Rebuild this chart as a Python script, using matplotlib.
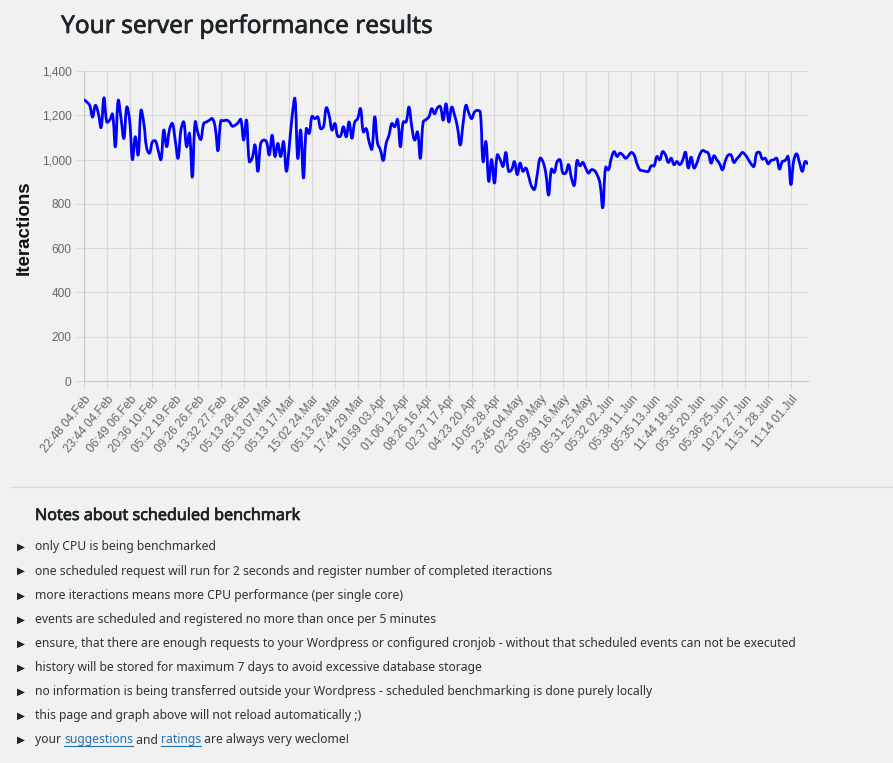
import matplotlib
matplotlib.use("Agg")
import matplotlib.pyplot as plt
from matplotlib.path import Path
from matplotlib.patches import PathPatch
import matplotlib.patheffects as pe
import numpy as np

# ---------------- data ----------------
iterations = [
    1270, 1260, 1245, 1192, 1245, 1210, 1145, 1279, 1170, 1178,
    1205, 1058, 1267, 1185, 1096, 1237, 1178, 1000, 1103, 1021,
    1222, 1163, 1051, 1029, 1080, 1085, 1043, 1000, 1133, 1058,
    1136, 1163, 1088, 1006, 1133, 1170, 1058, 1118, 921, 1170,
    1118, 1091, 1163, 1170, 1178, 1185, 1148, 1040, 1175, 1175,
    1178, 1170, 1151, 1155, 1166, 1181, 1088, 1178, 991, 1006,
    1066, 947, 1073, 1088, 1081, 1021, 1110, 1014, 1073, 1014,
    1081, 947, 1058, 1193, 1275, 1006, 1133, 917, 1140, 1118,
    1195, 1185, 1193, 1140, 1148, 1234, 1200, 1133, 1163, 1106,
    1106, 1148, 1103, 1170, 1096, 1170, 1185, 1230, 1125, 1140,
    1081, 1047, 1193, 1073, 1043, 996, 1073, 1110, 1163, 1148,
    1181, 1058, 1170, 1170, 1237, 1148, 1088, 1125, 1006, 1170,
    1181, 1193, 1230, 1207, 1234, 1240, 1178, 1252, 1170, 1237,
    1200, 1148, 1066, 1163, 1245, 1210, 1185, 1215, 1222, 1215,
    991, 1081, 902, 1000, 894, 1021, 1000, 969, 1032, 947,
    954, 991, 932, 984, 947, 962, 924, 880, 865, 932,
    1006, 991, 939, 840, 957, 942, 991, 999, 939, 939,
    977, 917, 883, 996, 972, 987, 962, 939, 954, 951,
    932, 894, 783, 966, 954, 1006, 1036, 1014, 1029, 1021,
    1006, 1017, 1032, 1021, 981, 954, 950, 947, 947, 972,
    972, 1014, 999, 1036, 1021, 987, 1006, 977, 991, 977,
    996, 1033, 962, 1011, 962, 984, 1021, 1041, 1036, 1029,
    984, 1017, 999, 981, 954, 994, 1020, 1021, 987, 1003,
    1017, 1032, 1021, 1002, 981, 969, 1029, 1032, 1002, 1006,
    981, 996, 999, 1006, 957, 991, 996, 1014, 887, 996,
    1026, 987, 947, 991, 981,
]

tick_labels = [
    "22:48 04.Feb", "23:44 04.Feb", "06:49 06.Feb", "20:36 10.Feb",
    "05:12 19.Feb", "09:26 26.Feb", "13:32 27.Feb", "05:13 28.Feb",
    "05:13 07.Mar", "05:13 17.Mar", "15:02 24.Mar", "05:13 26.Mar",
    "17:44 29.Mar", "10:59 03.Apr", "01:06 12.Apr", "08:26 16.Apr",
    "02:37 17.Apr", "04:23 20.Apr", "10:05 28.Apr", "23:45 04.May",
    "02:35 09.May", "05:39 16.May", "05:31 25.May", "05:32 02.Jun",
    "05:38 11.Jun", "05:35 13.Jun", "11:44 18.Jun", "05:35 20.Jun",
    "05:36 25.Jun", "10:21 27.Jun", "11:51 28.Jun", "11:14 01.Jul",
]
label_step = 8

y_ticks = [0, 200, 400, 600, 800, 1000, 1200, 1400]

title = "Your server performance results"
y_label = "Iteractions"
notes_title = "Notes about scheduled benchmark"
notes = [
    "only CPU is being benchmarked",
    "one scheduled request will run for 2 seconds and register number of completed iteractions",
    "more iteractions means more CPU performance (per single core)",
    "events are scheduled and registered no more than once per 5 minutes",
    "ensure, that there are enough requests to your Wordpress or configured cronjob - without that scheduled events can not be executed",
    "history will be stored for maximum 7 days to avoid excessive database storage",
    "no information is being transferred outside your Wordpress - scheduled benchmarking is done purely locally",
    "this page and graph above will not reload automatically ;)",
]
last_note = [("your ", False), ("suggestions", True), (" and ", False),
             ("ratings", True), (" are always very weclome!", False)]

# ---------------- figure ----------------
W, H = 893, 763
BG = "#f1f1f1"
fig = plt.figure(figsize=(W / 100, H / 100), dpi=100, facecolor=BG)


def fx(px):
    return px / W


def fy(py):
    return 1 - py / H


AX_L, AX_R, AX_T, AX_B = 84, 808, 71, 381
ax = fig.add_axes([fx(AX_L), fy(AX_B), fx(AX_R) - fx(AX_L), fy(AX_T) - fy(AX_B)])
ax.set_facecolor(BG)

n = len(iterations)
ax.set_xlim(0, n - 1)
ax.set_ylim(0, 1400)

# smooth (Chart.js-like tension) line through the data points
x = np.arange(n, dtype=float)
y = np.array(iterations, dtype=float)
sx = (AX_R - AX_L) / (n - 1)
sy = (AX_B - AX_T) / 1400.0
px, py = x * sx, y * sy
tension = 0.4
verts = [(x[0], y[0])]
codes = [Path.MOVETO]
cp_prev = [None] * n
cp_next = [None] * n
for i in range(n):
    i0, i2 = max(i - 1, 0), min(i + 1, n - 1)
    d01 = np.hypot(px[i] - px[i0], py[i] - py[i0])
    d12 = np.hypot(px[i2] - px[i], py[i2] - py[i])
    tot = d01 + d12 if d01 + d12 > 0 else 1.0
    fa, fb = tension * d01 / tot, tension * d12 / tot
    dx, dy = px[i2] - px[i0], py[i2] - py[i0]
    cp_prev[i] = (px[i] - fa * dx, py[i] - fa * dy)
    cp_next[i] = (px[i] + fb * dx, py[i] + fb * dy)
for i in range(1, n):
    c1 = cp_next[i - 1]
    c2 = cp_prev[i]
    verts += [(c1[0] / sx, c1[1] / sy), (c2[0] / sx, c2[1] / sy), (x[i], y[i])]
    codes += [Path.CURVE4] * 3
ax.add_patch(PathPatch(Path(verts, codes), facecolor="none", edgecolor="#0000ff",
                       lw=2.0, joinstyle="round", capstyle="round", zorder=3))

grid_c = "#d9d9d9"
xt = np.arange(len(tick_labels)) * label_step
ax.set_xticks(xt)
ax.set_xticklabels(tick_labels, rotation=50, ha="right", rotation_mode="anchor",
                   fontsize=8.6, color="#666666", family="Liberation Sans")
ax.set_yticks(y_ticks)
ax.set_yticklabels([f"{v:,}" for v in y_ticks], fontsize=8.6, color="#666666",
                   family="Liberation Sans")
ax.tick_params(axis="both", length=6, width=0.8, color=grid_c, pad=3)
ax.grid(True, color=grid_c, lw=0.8)
ax.set_axisbelow(True)
for s in ["top", "right"]:
    ax.spines[s].set_visible(False)
for s in ["left", "bottom"]:
    ax.spines[s].set_color("#c8c8c8")
    ax.spines[s].set_linewidth(0.8)

fig.text(fx(24), fy(228), y_label, rotation=90, ha="center", va="center",
         fontsize=13.5, fontweight="bold", family="Liberation Sans", color="#111111")

# title
fig.text(fx(61), fy(27), title, ha="left", va="center", fontsize=17.6,
         family="Noto Sans", color="#1d2327",
         path_effects=[pe.withStroke(linewidth=0.45, foreground="#1d2327")])

# separator
fig.add_artist(plt.Line2D([fx(10), fx(893)], [fy(487), fy(487)], color="#dcdcde",
                          lw=1, transform=fig.transFigure))

# notes
fig.text(fx(35), fy(516), notes_title, ha="left", va="center", fontsize=11.6,
         family="Noto Sans", color="#1d2327",
         path_effects=[pe.withStroke(linewidth=0.5, foreground="#1d2327")])

ys = [546.5, 571, 595.5, 620, 644, 668, 692, 716, 740]
txt_kw = dict(ha="left", va="center", fontsize=8.75, family="Noto Sans", color="#2c3338")


def bullet(yy):
    fig.text(fx(16.5), fy(yy), "\u25b6", ha="left", va="center", fontsize=7.5,
             family="DejaVu Sans", color="#1d2327")


for yy, line in zip(ys[:-1], notes):
    bullet(yy)
    fig.text(fx(35), fy(yy), line, **txt_kw)

bullet(ys[-1])
renderer = fig.canvas.get_renderer()
cur = 35.0
for seg, is_link in last_note:
    kw = dict(txt_kw)
    if is_link:
        kw["color"] = "#2271b1"
    t = fig.text(fx(cur), fy(ys[-1]), seg, **kw)
    bb = t.get_window_extent(renderer)
    if is_link:
        fig.add_artist(plt.Line2D([fx(cur), fx(cur + bb.width)],
                                  [fy(ys[-1] + 6), fy(ys[-1] + 6)],
                                  color="#2271b1", lw=0.8, transform=fig.transFigure))
    cur += bb.width

fig.savefig("out.png", dpi=100, facecolor=BG)
